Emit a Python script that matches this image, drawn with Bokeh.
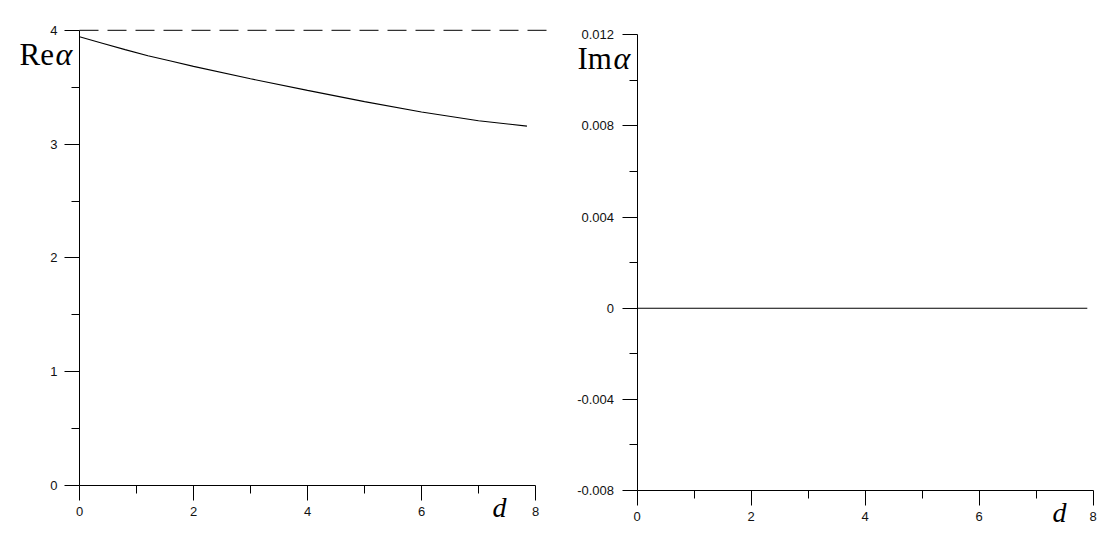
from bokeh.plotting import figure
from bokeh.layouts import row
from bokeh.models import FixedTicker, CustomJSTickFormatter, Label, Range1d
from bokeh.embed import file_html
from bokeh.resources import INLINE

# ---- data ----
d_re = [0, 0.4, 0.8, 1.2, 1.6, 2.0, 3.0, 4.0, 5.0, 6.0, 7.0, 7.85]
re_alpha = [3.944, 3.887, 3.830, 3.776, 3.731, 3.683, 3.574, 3.472, 3.373, 3.282, 3.205, 3.158]
asym_d = [0, 8.3]
asym_val = [4.0, 4.0]
d_im = [0, 7.9]
im_alpha = [0.0, 0.0]

x_ticks = [0, 2, 4, 6, 8]
x_minor = [1, 3, 5, 7]
re_ticks = [0, 1, 2, 3, 4]
re_minor = [0.5, 1.5, 2.5, 3.5]
im_ticks = [-0.008, -0.004, 0, 0.004, 0.008, 0.012]
im_minor = [-0.006, -0.002, 0.002, 0.006, 0.010]

TICK_FONT = "Liberation Sans"
SERIF = "Liberation Serif"


def style_axis(ax, ticks, minor, bounds, loc, standoff):
    ax.ticker = FixedTicker(ticks=ticks, minor_ticks=minor)
    ax.bounds = bounds
    ax.fixed_location = loc
    ax.axis_line_color = "black"
    ax.axis_line_width = 1
    ax.major_tick_line_color = "black"
    ax.minor_tick_line_color = "black"
    ax.major_tick_out = 15
    ax.major_tick_in = 0
    ax.minor_tick_out = 8
    ax.minor_tick_in = 0
    ax.major_label_text_font = TICK_FONT
    ax.major_label_text_font_size = "13px"
    ax.major_label_text_color = "#111111"
    ax.major_label_standoff = standoff


def base_fig(xr, yr, fw, fh):
    p = figure(x_range=xr, y_range=yr, frame_width=fw, frame_height=fh,
               min_border=0, output_backend="svg", toolbar_location=None)
    p.grid.visible = False
    p.outline_line_color = None
    p.background_fill_color = "white"
    p.border_fill_color = "white"
    return p


def lab(p, x, y, text, size, italic=False):
    p.add_layout(Label(x=x, y=y, text=text,
                       text_font=SERIF, text_font_size=size,
                       text_font_style="italic" if italic else "normal",
                       text_baseline="alphabetic", text_align="left",
                       text_color="black"))


# ---- left: Re alpha ----  (x: 57 px/unit, 0 at 79 px; y: 113.8 px/unit, 0 at 485 px)
p1 = base_fig(Range1d(-79 / 57, 477 / 57), Range1d(-70 / 113.8, 485 / 113.8), 556, 555)
style_axis(p1.xaxis[0], x_ticks, x_minor, (0, 8), 0, 6)
style_axis(p1.yaxis[0], re_ticks, re_minor, (0, 4), 0, 7)
p1.line(asym_d, asym_val, line_color="black", line_width=1, line_dash="19 9")
p1.line(d_re, re_alpha, line_color="black", line_width=1.1)
lab(p1, -1.053, 3.788, "Re", "31px")
lab(p1, -0.42, 3.788, "α", "32px", italic=True)
lab(p1, 7.246, -0.193, "d", "28px", italic=True)

# ---- right: Im alpha ----  (x: 57 px/unit, 0 at 80.5 px; y: 22785 px/unit, -0.008 at 490 px)
yscale = 22785.0
p2 = base_fig(Range1d(-80.5 / 57, 461.5 / 57),
              Range1d(-0.008 - 65 / yscale, 0.012 + 34.3 / yscale), 542, 555)
style_axis(p2.xaxis[0], x_ticks, x_minor, (0, 8), -0.008, 6)
style_axis(p2.yaxis[0], im_ticks, im_minor, (-0.008, 0.012), 0, 8)
p2.yaxis[0].formatter = CustomJSTickFormatter(
    code="return Math.abs(tick) < 1e-9 ? '0' : tick.toFixed(3);")
p2.line(d_im, im_alpha, line_color="black", line_width=1.1)
lab(p2, -1.044, 0.01096, "Im", "31px")
lab(p2, -0.412, 0.01096, "α", "32px", italic=True)
lab(p2, 7.29, -0.008965, "d", "28px", italic=True)

layout = row(p1, p2)
open("out.html", "w").write(file_html(layout, INLINE))
